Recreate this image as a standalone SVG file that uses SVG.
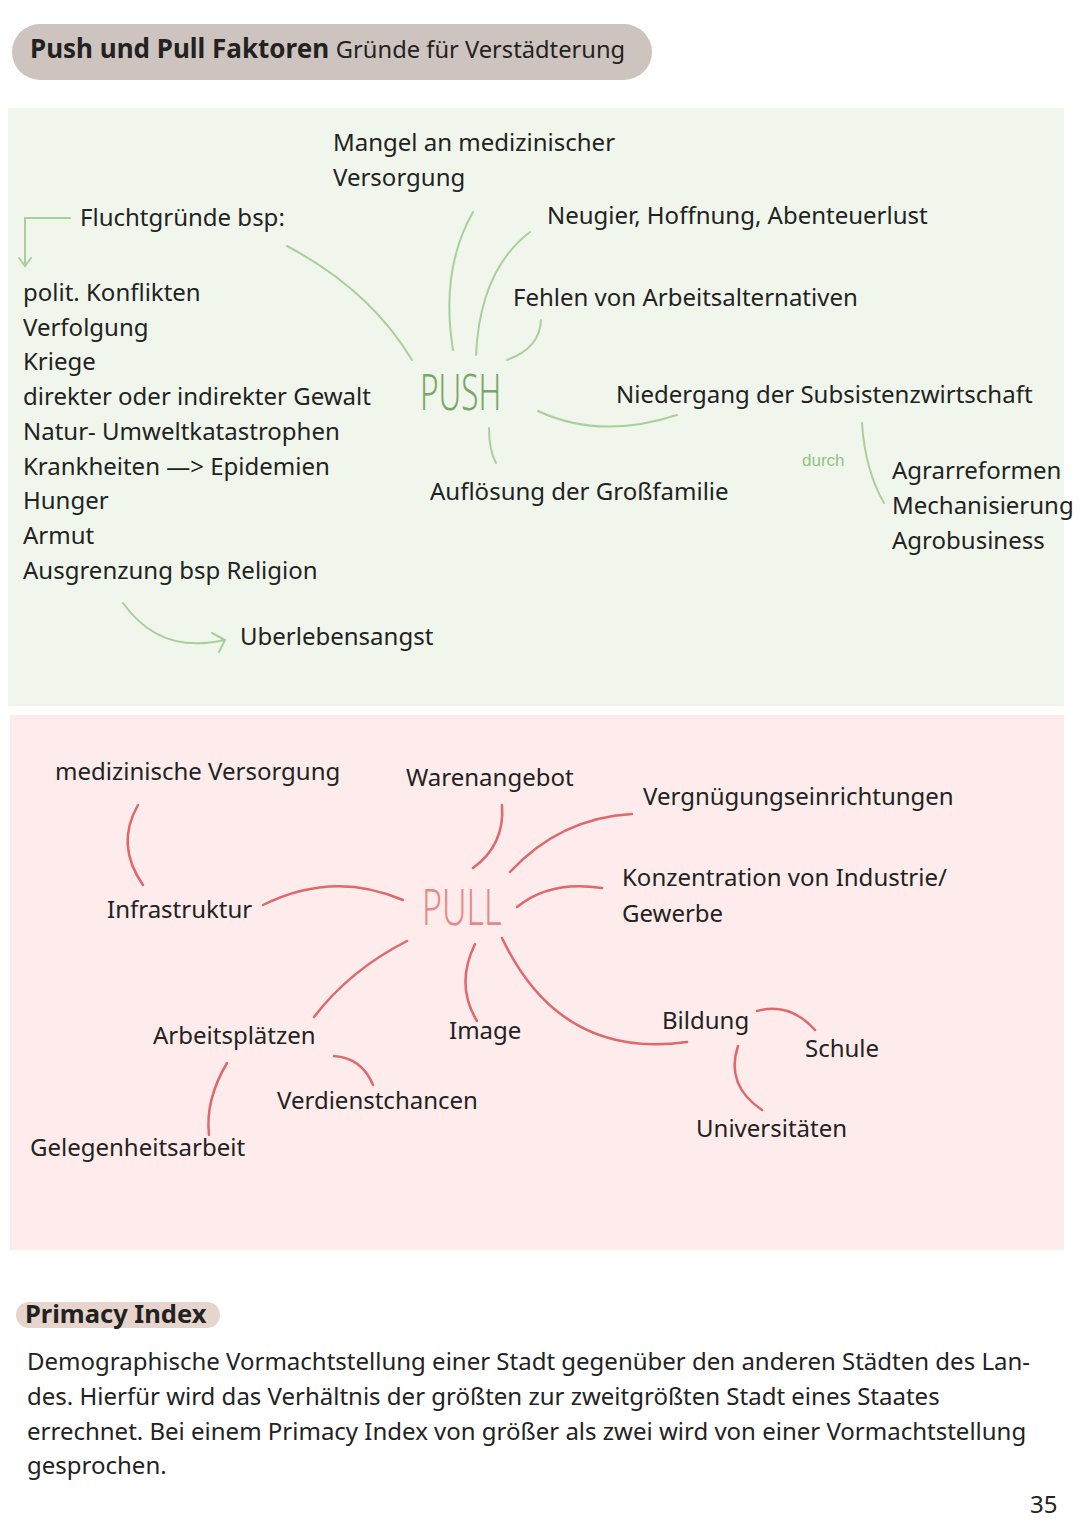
<svg xmlns="http://www.w3.org/2000/svg" width="1080" height="1532" viewBox="0 0 1080 1532">
<style>
.t{font-family:"Noto Sans","Liberation Sans",sans-serif;font-size:24px;fill:#222}
.b{font-weight:bold}
.g{fill:none;stroke:#a9d09b;stroke-width:2;stroke-linecap:round}
.r{fill:none;stroke:#e0676a;stroke-width:2.5;stroke-linecap:round}
.hub{font-family:"Noto Sans","Liberation Sans",sans-serif;font-weight:300;font-size:50px}
</style>
<rect width="1080" height="1532" fill="#fff"/>
<g id="title">
<rect x="12" y="24" width="640" height="56" rx="28" fill="#cec4bf"/>
<text x="30" y="58" class="t b" style="font-size:26px">Push und Pull Faktoren <tspan style="font-weight:normal;font-size:23.7px">Gründe für Verstädterung</tspan></text>
</g>
<rect id="push-area" x="8" y="108" width="1056" height="598" fill="#f0f6ec"/>
<rect id="pull-area" x="10" y="715" width="1054" height="535" fill="#fdeceb"/>
<g id="connectors-push">
<path class="g" d="M70,218 H25 V265 M19,258 L25,266 L31,258"/>
<path class="g" d="M287,246 Q370,290 412,360"/>
<path class="g" d="M473,212 Q440,270 453,350"/>
<path class="g" d="M530,232 Q480,270 476,355"/>
<path class="g" d="M541,320 Q540,348 507,360"/>
<path class="g" d="M538,411 Q600,440 677,415"/>
<path class="g" d="M489,428 Q489,450 496,463"/>
<path class="g" d="M862,423 Q865,470 884,503"/>
<path class="g" d="M123,603 Q160,655 224,640 M212,633 L225,640 L219,652"/>
</g>
<g id="connectors-pull">
<path class="r" d="M138,805 Q115,845 143,885"/>
<path class="r" d="M263,905 Q333,870 403,900"/>
<path class="r" d="M502,805 Q505,845 473,868"/>
<path class="r" d="M510,872 Q560,818 632,814"/>
<path class="r" d="M517,907 Q550,880 602,888"/>
<path class="r" d="M407,941 Q350,970 314,1017"/>
<path class="r" d="M475,944 Q455,985 477,1021"/>
<path class="r" d="M502,938 Q560,1060 687,1042"/>
<path class="r" d="M757,1011 Q790,1002 815,1030"/>
<path class="r" d="M738,1046 Q725,1085 762,1110"/>
<path class="r" d="M334,1056 Q362,1058 373,1085"/>
<path class="r" d="M227,1063 Q205,1100 209,1135"/>
</g>
<g id="push"><text x="420" y="410" class="hub" fill="#76a866" transform="translate(420 0) scale(0.63 1) translate(-420 0)">PUSH</text></g>
<g id="mangel"><text class="t" x="333" y="151">Mangel an medizinischer</text><text class="t" x="333" y="186">Versorgung</text></g>
<g id="flucht"><text class="t" x="80" y="226">Fluchtgründe bsp:</text></g>
<g id="neugier"><text class="t" x="547" y="224">Neugier, Hoffnung, Abenteuerlust</text></g>
<g id="fehlen"><text class="t" x="513" y="306">Fehlen von Arbeitsalternativen</text></g>
<g id="niedergang"><text class="t" x="616" y="403">Niedergang der Subsistenzwirtschaft</text></g>
<g id="aufloesung"><text class="t" x="430" y="500">Auflösung der Großfamilie</text></g>
<g id="durch"><text x="802" y="466" style="font-family:'Liberation Sans',sans-serif;font-size:17px;fill:#93c283">durch</text></g>
<g id="agrar"><text class="t" x="892" y="479">Agrarreformen</text><text class="t" x="892" y="514">Mechanisierung</text><text class="t" x="892" y="549">Agrobusiness</text></g>
<g id="liste">
<text class="t" x="23" y="301">polit. Konflikten</text>
<text class="t" x="23" y="336">Verfolgung</text>
<text class="t" x="23" y="370">Kriege</text>
<text class="t" x="23" y="405">direkter oder indirekter Gewalt</text>
<text class="t" x="23" y="440">Natur- Umweltkatastrophen</text>
<text class="t" x="23" y="475">Krankheiten —&gt; Epidemien</text>
<text class="t" x="23" y="509">Hunger</text>
<text class="t" x="23" y="544">Armut</text>
<text class="t" x="23" y="579">Ausgrenzung bsp Religion</text>
</g>
<g id="ueberleben"><text class="t" x="240" y="645">Uberlebensangst</text></g>
<g id="pull"><text x="422" y="925" class="hub" fill="#e8878a" transform="translate(422 0) scale(0.68 1) translate(-422 0)">PULL</text></g>
<g id="medver"><text class="t" x="55" y="780">medizinische Versorgung</text></g>
<g id="waren"><text class="t" x="406" y="786">Warenangebot</text></g>
<g id="vergn"><text class="t" x="643" y="805">Vergnügungseinrichtungen</text></g>
<g id="konz"><text class="t" x="622" y="886">Konzentration von Industrie/</text><text class="t" x="622" y="922">Gewerbe</text></g>
<g id="infra"><text class="t" x="107" y="918">Infrastruktur</text></g>
<g id="arbeit"><text class="t" x="153" y="1044">Arbeitsplätzen</text></g>
<g id="image"><text class="t" x="449" y="1039">Image</text></g>
<g id="bildung"><text class="t" x="662" y="1029">Bildung</text></g>
<g id="schule"><text class="t" x="805" y="1057">Schule</text></g>
<g id="verdienst"><text class="t" x="277" y="1109">Verdienstchancen</text></g>
<g id="uni"><text class="t" x="696" y="1137">Universitäten</text></g>
<g id="gelegen"><text class="t" x="30" y="1156">Gelegenheitsarbeit</text></g>
<g id="primacy">
<rect x="16" y="1302" width="204" height="26" rx="13" fill="#e6d5cc"/>
<text x="25" y="1323" class="t b" style="font-size:25.5px">Primacy Index</text>
<text class="t" x="27" y="1370">Demographische Vormachtstellung einer Stadt gegenüber den anderen Städten des Lan-</text>
<text class="t" x="27" y="1405">des. Hierfür wird das Verhältnis der größten zur zweitgrößten Stadt eines Staates</text>
<text class="t" x="27" y="1440">errechnet. Bei einem Primacy Index von größer als zwei wird von einer Vormachtstellung</text>
<text class="t" x="27" y="1474">gesprochen.</text>
</g>
<text class="t" x="1030" y="1513">35</text>
</svg>
